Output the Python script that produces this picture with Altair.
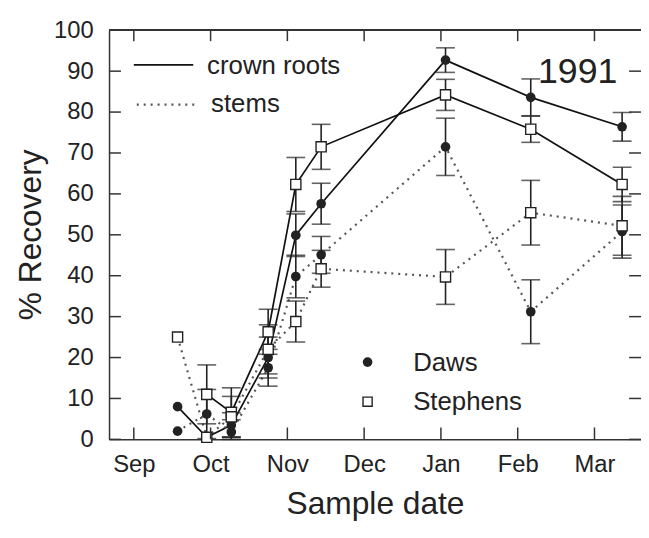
import altair as alt
import pandas as pd

# ---- data ----
months = ["Sep", "Oct", "Nov", "Dec", "Jan", "Feb", "Mar"]
month_pos = [0, 1, 2, 3, 4, 5, 6]
y_ticks = [0, 10, 20, 30, 40, 50, 60, 70, 80, 90, 100]

# sample dates, expressed in months after 1 Sep
sample_pos = [0.57, 0.95, 1.27, 1.75, 2.11, 2.44, 4.06, 5.17, 6.36]

daws_crown = [8.0, 0.5, 3.5, 20.0, 49.9, 57.6, 92.7, 83.6, 76.4]
daws_crown_err = [0, 0, 3.0, 5.0, 5.2, 5.0, 3.0, 4.5, 3.5]
steph_crown = [None, 11.0, 6.6, 26.3, 62.3, 71.5, 84.2, 75.8, 62.3]
steph_crown_err = [0, 7.2, 6.0, 5.5, 6.6, 5.5, 3.8, 3.2, 4.2]
daws_stems = [2.0, 6.2, 1.8, 17.5, 39.8, 45.1, 71.5, 31.2, 50.8]
daws_stems_err = [0, 6.0, 3.0, 4.5, 5.2, 4.5, 7.0, 7.8, 6.5]
steph_stems = [25.0, 0.5, 5.5, 22.0, 28.8, 41.7, 39.7, 55.4, 52.2]
steph_stems_err = [0, 0, 5.0, 6.0, 5.0, 4.5, 6.7, 7.9, 7.2]

series = [
    ("Daws", "crown roots", daws_crown, daws_crown_err),
    ("Stephens", "crown roots", steph_crown, steph_crown_err),
    ("Daws", "stems", daws_stems, daws_stems_err),
    ("Stephens", "stems", steph_stems, steph_stems_err),
]
rows = []
for cult, tissue, vals, errs in series:
    for m, v, e in zip(sample_pos, vals, errs):
        if v is None:
            continue
        rows.append({"m": m, "v": v, "err": e, "lo": max(v - e, 0), "hi": v + e,
                     "cultivar": cult, "tissue": tissue, "key": cult + " " + tissue})
df = pd.DataFrame(rows)
err_df = df[df["err"] > 0]

W, H = 537, 413
FONT = "Liberation Sans"
INK = "#222222"

xs = alt.Scale(domain=[-0.3226, 6.606], nice=False, zero=False)
ys = alt.Scale(domain=[0, 100], nice=False)

base = alt.Chart(df)

x_axis = alt.Axis(values=month_pos, labelExpr="['Sep','Oct','Nov','Dec','Jan','Feb','Mar'][datum.value]",
                  labelFont=FONT, labelFontSize=24, labelColor=INK, labelPadding=13,
                  ticks=False, tickSize=0, grid=False, domainColor="#333", domainWidth=1.5,
                  title="Sample date", titleFont=FONT, titleFontSize=32, titleFontWeight="normal",
                  titleColor=INK, titleY=75, titleBaseline="alphabetic")
y_axis = alt.Axis(values=y_ticks, labelFont=FONT, labelFontSize=24, labelColor=INK, labelPadding=16,
                  ticks=False, tickSize=0, grid=False, domainColor="#333", domainWidth=1.5,
                  title="% Recovery", titleFont=FONT, titleFontSize=32, titleFontWeight="normal",
                  titleColor=INK, titleX=-69, titleY=206, titleBaseline="alphabetic", titleAngle=-90)

solid = base.transform_filter("datum.tissue == 'crown roots'").mark_line(
    color="#111", strokeWidth=1.7).encode(
    x=alt.X("m:Q", scale=xs, axis=x_axis), y=alt.Y("v:Q", scale=ys, axis=y_axis),
    detail="key:N")
dotted = base.transform_filter("datum.tissue == 'stems'").mark_line(
    color="#555", strokeWidth=2.2, strokeDash=[2, 5]).encode(
    x=alt.X("m:Q", scale=xs), y=alt.Y("v:Q", scale=ys), detail="key:N")

ebar = alt.Chart(err_df).mark_rule(color="#222", strokeWidth=1.6).encode(
    x=alt.X("m:Q", scale=xs), y=alt.Y("lo:Q", scale=ys), y2="hi:Q")
cap_lo = alt.Chart(err_df).mark_tick(color="#222", thickness=1.6, size=19, orient="horizontal").encode(
    x=alt.X("m:Q", scale=xs), y=alt.Y("lo:Q", scale=ys))
cap_hi = alt.Chart(err_df).mark_tick(color="#222", thickness=1.6, size=19, orient="horizontal").encode(
    x=alt.X("m:Q", scale=xs), y=alt.Y("hi:Q", scale=ys))

dots = base.transform_filter("datum.cultivar == 'Daws'").mark_circle(
    size=95, color="#222", opacity=1).encode(x=alt.X("m:Q", scale=xs), y=alt.Y("v:Q", scale=ys))
squares = base.transform_filter("datum.cultivar == 'Stephens'").mark_square(
    size=105, fill="white", stroke="#222", strokeWidth=1.4, opacity=1).encode(
    x=alt.X("m:Q", scale=xs), y=alt.Y("v:Q", scale=ys))

# frame ticks (inward) and top border
yt = pd.DataFrame({"t": y_ticks})
mt = pd.DataFrame({"t": month_pos})
left_ticks = alt.Chart(yt).mark_rule(color="#333", strokeWidth=1.5).encode(
    y=alt.Y("t:Q", scale=ys), x=alt.value(0), x2=alt.value(12))
right_ticks = alt.Chart(yt).mark_rule(color="#333", strokeWidth=1.5).encode(
    y=alt.Y("t:Q", scale=ys), x=alt.value(W - 12), x2=alt.value(W))
bottom_ticks = alt.Chart(mt).mark_rule(color="#333", strokeWidth=1.5).encode(
    x=alt.X("t:Q", scale=xs), y=alt.value(H), y2=alt.value(H - 12))
top_ticks = alt.Chart(mt).mark_rule(color="#333", strokeWidth=1.5).encode(
    x=alt.X("t:Q", scale=xs), y=alt.value(0), y2=alt.value(11))
top_line = alt.Chart(mt).mark_rule(color="#333", strokeWidth=1.5).encode(
    x=alt.value(0), x2=alt.value(W), y=alt.value(0))

# in-plot legend and year label
one = pd.DataFrame({"a": [0]})
leg_solid = alt.Chart(one).mark_rule(color="#111", strokeWidth=1.7).encode(
    x=alt.value(25), x2=alt.value(85), y=alt.value(35))
leg_dot = alt.Chart(one).mark_rule(color="#555", strokeWidth=2.2, strokeDash=[2, 5]).encode(
    x=alt.value(28), x2=alt.value(88), y=alt.value(75))
txt = dict(font=FONT, fontSize=26, color=INK, align="left", baseline="alphabetic")
leg_t1 = alt.Chart(one).mark_text(text="crown roots", **txt).encode(x=alt.value(99), y=alt.value(44))
leg_t2 = alt.Chart(one).mark_text(text="stems", **txt).encode(x=alt.value(103), y=alt.value(83))
year = alt.Chart(one).mark_text(text="1991", font=FONT, fontSize=36, color=INK, align="left",
                                baseline="alphabetic").encode(x=alt.value(433), y=alt.value(53))
leg_daws = alt.Chart(one).mark_circle(size=95, color="#222", opacity=1).encode(
    x=alt.value(261), y=alt.value(335))
leg_steph = alt.Chart(one).mark_square(size=85, fill="white", stroke="#222", strokeWidth=1.4,
                                       opacity=1).encode(x=alt.value(261), y=alt.value(375))
leg_t3 = alt.Chart(one).mark_text(text="Daws", **txt).encode(x=alt.value(307), y=alt.value(344))
leg_t4 = alt.Chart(one).mark_text(text="Stephens", **txt).encode(x=alt.value(307), y=alt.value(383))

chart = alt.layer(
    solid, dotted, ebar, cap_lo, cap_hi, dots, squares,
    left_ticks, right_ticks, bottom_ticks, top_ticks, top_line,
    leg_solid, leg_dot, leg_t1, leg_t2, year, leg_daws, leg_steph, leg_t3, leg_t4,
).properties(
    width=W, height=H,
    autosize=alt.AutoSizeParams(type="none"),
    padding={"left": 102, "top": 20, "right": 0, "bottom": 85},
    background="white",
).configure_view(stroke=None)

chart.save("out.html", embed_options={"renderer": "svg", "actions": False})
